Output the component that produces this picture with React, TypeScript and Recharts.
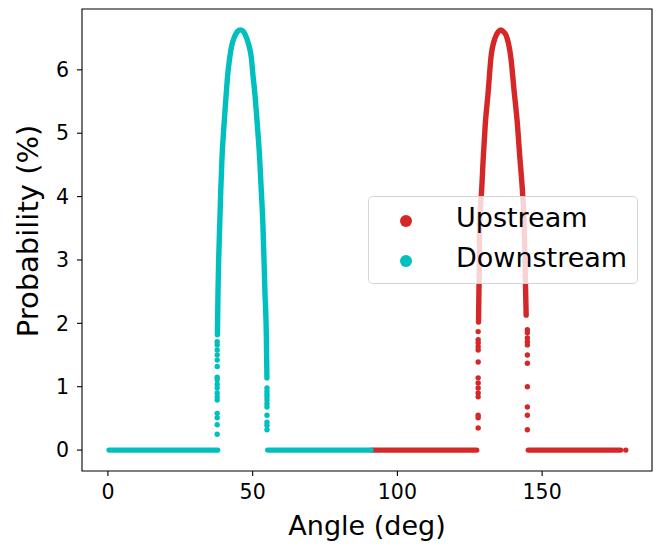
import React from 'react';
import { ComposedChart, Line, Scatter, XAxis, YAxis, ReferenceArea, Legend } from 'recharts';

const seriesNames = ['Upstream', 'Downstream'];
const seriesColors = ['#d62728', '#00bfbf'];

const xTicks = [0, 50, 100, 150];
const yTicks = [0, 1, 2, 3, 4, 5, 6];

// [angle, probability], continuous part of each peak
const upstreamCurve = [
  [128.03, 2.02], [128.15, 2.45], [128.28, 2.84], [128.38, 3.55], [128.7, 3.85],
  [129.07, 4.08], [129.66, 4.61], [130.34, 5.13], [131.38, 5.66], [132.31, 6.19],
  [133.8, 6.51], [134.8, 6.6], [135.76, 6.63], [136.7, 6.6], [137.6, 6.54],
  [139.2, 6.19], [140.34, 5.66], [141.48, 5.13], [142.31, 4.61], [143.21, 4.08],
  [143.8, 3.55], [144.14, 2.84], [144.48, 2.13],
];
const downstreamCurve = [
  [37.83, 1.82], [38.03, 2.5], [38.28, 3.03], [38.62, 3.55], [38.97, 4.08],
  [39.41, 4.61], [40.1, 5.13], [40.93, 5.66], [41.38, 5.92], [42.07, 6.19],
  [42.86, 6.4], [43.55, 6.5], [44.83, 6.61], [45.76, 6.63], [46.72, 6.61],
  [47.93, 6.5], [48.62, 6.4], [49.55, 6.19], [50.1, 5.92], [50.69, 5.66],
  [51.62, 5.13], [52.41, 4.61], [53.0, 4.08], [53.55, 3.55], [53.9, 3.03],
  [54.24, 2.5], [54.72, 1.82], [54.93, 1.14],
];

// zero-probability runs [start, end]
const upstreamZeroRuns = [[91.2, 127.4], [145.2, 177.1]];
const downstreamZeroRuns = [[0.4, 37.9], [55.2, 90.9]];

// isolated points at the foot of each peak
const upstreamLeftAngle = 127.9;
const upstreamLeftProbs = [1.87, 1.74, 1.69, 1.63, 1.58, 1.39, 1.14, 1.06, 0.98, 0.9, 0.84, 0.55, 0.51, 0.35];
const upstreamRightAngle = 144.9;
const upstreamRightProbs = [1.9, 1.85, 1.77, 1.71, 1.66, 1.5, 1.37, 1.0, 0.68, 0.55, 0.32];
const upstreamTailAngles = [178.9];
const downstreamLeftAngle = 37.75;
const downstreamLeftProbs = [1.71, 1.66, 1.58, 1.5, 1.42, 1.32, 1.15, 1.11, 1.04, 0.98, 0.9, 0.84, 0.79, 0.58, 0.51, 0.4, 0.25];
const downstreamRightAngle = 54.95;
const downstreamRightProbs = [0.98, 0.93, 0.88, 0.84, 0.79, 0.73, 0.68, 0.55, 0.44, 0.39, 0.32];

const xDomain = [-8.95, 187.95];
const yDomain = [-0.33, 6.96];

const FONT = 'DejaVu Sans';

const rows = (pts: number[][]) => pts.map(([angle, prob]) => ({ angle, prob }));
const column = (angle: number, probs: number[]) => probs.map((prob) => ({ angle, prob }));
const zeroRow = (run: number[]) => run.map((angle) => ({ angle, prob: 0 }));

const upstreamDots = [
  ...column(upstreamLeftAngle, upstreamLeftProbs),
  ...column(upstreamRightAngle, upstreamRightProbs),
  ...upstreamTailAngles.map((angle) => ({ angle, prob: 0 })),
];
const downstreamDots = [
  ...column(downstreamLeftAngle, downstreamLeftProbs),
  ...column(downstreamRightAngle, downstreamRightProbs),
];

const dotShape = (color: string) => (props: any) => (
  <circle cx={props.cx} cy={props.cy} r={2.7} fill={color} />
);

const LegendBox = () => (
  <div
    style={{
      width: 270,
      height: 88,
      boxSizing: 'border-box',
      border: '1px solid rgba(204,204,204,0.8)',
      borderRadius: 5,
      background: 'rgba(255,255,255,0.8)',
      fontFamily: FONT,
      fontSize: 27,
      position: 'relative',
      color: '#000',
    }}
  >
    {seriesNames.map((name, i) => (
      <React.Fragment key={name}>
        <span
          style={{
            position: 'absolute',
            left: 31,
            top: 18 + i * 40,
            width: 12,
            height: 12,
            borderRadius: '50%',
            background: seriesColors[i],
          }}
        />
        <span
          style={{
            position: 'absolute',
            left: 87,
            top: 1 + i * 40,
            lineHeight: '40px',
            whiteSpace: 'nowrap',
          }}
        >
          {name}
        </span>
      </React.Fragment>
    ))}
  </div>
);

const YLabel = (props: any) => {
  const { viewBox } = props;
  const x = viewBox.x + 28;
  const y = viewBox.y + viewBox.height / 2 - 9;
  return (
    <text
      x={x}
      y={y}
      dy="0.36em"
      transform={`rotate(-90, ${x}, ${y})`}
      textAnchor="middle"
      fill="#000"
      fontSize={29}
      fontFamily={FONT}
    >
      Probability (%)
    </text>
  );
};

export default function App() {
  const lineProps = {
    dataKey: 'prob',
    dot: false,
    activeDot: false,
    strokeWidth: 5.4,
    strokeLinecap: 'round' as const,
    strokeLinejoin: 'round' as const,
    isAnimationActive: false,
    legendType: 'none' as const,
  };
  return (
    <div style={{ position: 'absolute', left: 0, top: 0, background: '#fff' }}>
      <ComposedChart width={660} height={546} margin={{ top: 9, right: 8, bottom: 0, left: 0 }}>
        <XAxis
          type="number"
          dataKey="angle"
          domain={xDomain}
          ticks={xTicks}
          allowDataOverflow
          axisLine={false}
          tickLine={{ stroke: '#000', strokeWidth: 1.1 }}
          tickSize={5}
          tickMargin={8}
          height={75}
          tick={{ fill: '#000', fontSize: 20.5, fontFamily: FONT }}
          label={{ value: 'Angle (deg)', position: 'insideBottom', offset: 11, style: { fill: '#000', fontSize: 27, fontFamily: FONT } }}
        />
        <YAxis
          type="number"
          domain={yDomain}
          ticks={yTicks}
          allowDataOverflow
          axisLine={false}
          tickLine={{ stroke: '#000', strokeWidth: 1.1 }}
          tickSize={5}
          tickMargin={8}
          width={82}
          tick={{ fill: '#000', fontSize: 20.5, fontFamily: FONT }}
          label={<YLabel />}
        />
        {upstreamZeroRuns.map((run, i) => (
          <Line key={'uz' + i} data={zeroRow(run)} stroke={seriesColors[0]} {...lineProps} type="linear" />
        ))}
        <Line data={rows(upstreamCurve)} stroke={seriesColors[0]} {...lineProps} type="monotone" />
        <Scatter data={upstreamDots} dataKey="prob" shape={dotShape(seriesColors[0])} isAnimationActive={false} legendType="none" />
        {downstreamZeroRuns.map((run, i) => (
          <Line key={'dz' + i} data={zeroRow(run)} stroke={seriesColors[1]} {...lineProps} type="linear" />
        ))}
        <Line data={rows(downstreamCurve)} stroke={seriesColors[1]} {...lineProps} type="monotone" />
        <Scatter data={downstreamDots} dataKey="prob" shape={dotShape(seriesColors[1])} isAnimationActive={false} legendType="none" />
        <ReferenceArea x1={xDomain[0]} x2={xDomain[1]} y1={yDomain[0]} y2={yDomain[1]} fill="none" stroke="#000" strokeWidth={1.1} ifOverflow="visible" />
        <Legend
          layout="vertical"
          align="center"
          verticalAlign="middle"
          content={() => <LegendBox />}
          wrapperStyle={{ left: 368, top: 196, width: 270, height: 88 }}
        />
      </ComposedChart>
    </div>
  );
}
